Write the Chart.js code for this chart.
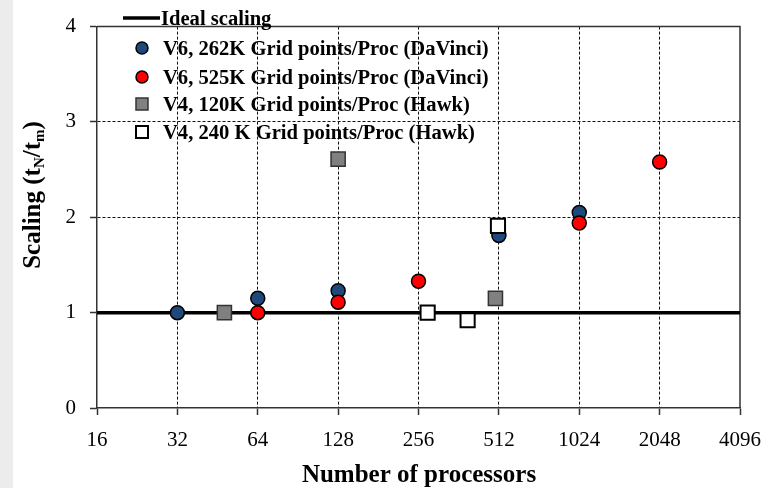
<!DOCTYPE html>
<html>
<head>
<meta charset="utf-8">
<script src="https://cdn.jsdelivr.net/npm/chart.js@4.4.1/dist/chart.umd.min.js"></script>
<style>
  html, body { margin: 0; padding: 0; background: #fff; }
  #wrap { position: relative; width: 774px; height: 488px; }
  #strip { position: absolute; left: 0; top: 0; width: 13px; height: 488px; background: #ececec; }
  canvas { position: absolute; left: 0; top: 0; }
</style>
</head>
<body>
<div id="wrap">
  <div id="strip"></div>
  <canvas id="chart" width="774" height="488"></canvas>
</div>
<script>
// x ticks (number of processors), log2 spaced
const xTicks = [16, 32, 64, 128, 256, 512, 1024, 2048, 4096];
const yTicks = [0, 1, 2, 3, 4];

// Ideal scaling
const idealX = [16, 4096];
const idealY = [1, 1];

// V6, 262K Grid points/Proc (DaVinci)
const davinci262X = [32, 64, 128, 512, 1024];
const davinci262Y = [1.0, 1.15, 1.23, 1.81, 2.05];

// V6, 525K Grid points/Proc (DaVinci)
const davinci525X = [64, 128, 256, 1024, 2048];
const davinci525Y = [1.0, 1.11, 1.33, 1.94, 2.58];

// V4, 120K Grid points/Proc (Hawk)
const hawk120X = [48, 128, 497];
const hawk120Y = [1.0, 2.61, 1.15];

// V4, 240 K Grid points/Proc (Hawk)
const hawk240X = [277, 391, 508];
const hawk240Y = [1.0, 0.92, 1.91];

const labels = [
  'Ideal scaling',
  'V6, 262K Grid points/Proc (DaVinci)',
  'V6, 525K Grid points/Proc (DaVinci)',
  'V4, 120K Grid points/Proc (Hawk)',
  'V4, 240 K Grid points/Proc (Hawk)'
];

const serif = "'Liberation Serif', 'Times New Roman', serif";

function pts(xs, ys) {
  return xs.map((x, i) => ({ x: x, y: ys[i] }));
}

// frame on top and right, legend and axis titles
const extras = {
  id: 'extras',
  beforeDatasetsDraw(chart) {
    const { ctx, chartArea: a } = chart;
    ctx.save();
    ctx.strokeStyle = '#333';
    ctx.lineWidth = 1.5;
    ctx.beginPath();
    ctx.moveTo(a.left, a.top);
    ctx.lineTo(a.right, a.top);
    ctx.lineTo(a.right, a.bottom);
    ctx.stroke();
    ctx.restore();
  },
  afterDraw(chart) {
    const ctx = chart.ctx;
    const ds = chart.data.datasets;
    ctx.save();

    // legend
    ctx.font = 'bold 20.6px ' + serif;
    ctx.fillStyle = '#000';
    ctx.textBaseline = 'middle';
    ctx.textAlign = 'left';
    ctx.strokeStyle = '#000';
    ctx.lineWidth = 3.5;
    ctx.beginPath();
    ctx.moveTo(123, 18);
    ctx.lineTo(160, 18);
    ctx.stroke();
    ctx.fillText(ds[0].label, 161, 20);

    const rows = [48, 77, 104, 132];
    for (let i = 1; i < ds.length; i++) {
      const y = rows[i - 1];
      const d = ds[i];
      ctx.fillStyle = d.backgroundColor;
      ctx.strokeStyle = d.borderColor;
      ctx.lineWidth = d.borderWidth;
      ctx.beginPath();
      if (d.pointStyle === 'rect') {
        ctx.rect(136, y - 6, 12, 12);
      } else {
        ctx.arc(142, y, 6, 0, Math.PI * 2);
      }
      ctx.fill();
      ctx.stroke();
      ctx.fillStyle = '#000';
      ctx.fillText(d.label, 163, y + 2);
    }

    // x title
    ctx.font = 'bold 25px ' + serif;
    ctx.textAlign = 'center';
    ctx.textBaseline = 'alphabetic';
    ctx.fillText('Number of processors', 419, 482);

    // y title with subscripts
    const parts = [
      { t: 'Scaling (t', sub: false },
      { t: 'N', sub: true },
      { t: '/t', sub: false },
      { t: 'm', sub: true },
      { t: ')', sub: false }
    ];
    const big = 'bold 25px ' + serif;
    const small = 'bold 15px ' + serif;
    let total = 0;
    parts.forEach(p => {
      ctx.font = p.sub ? small : big;
      p.w = ctx.measureText(p.t).width;
      total += p.w;
    });
    ctx.translate(40, 195);
    ctx.rotate(-Math.PI / 2);
    ctx.textAlign = 'left';
    let x = -total / 2;
    parts.forEach(p => {
      ctx.font = p.sub ? small : big;
      ctx.fillText(p.t, x, p.sub ? 4 : 0);
      x += p.w;
    });
    ctx.restore();
  }
};

const ctx = document.getElementById('chart').getContext('2d');
new Chart(ctx, {
  type: 'scatter',
  data: {
    datasets: [
      {
        label: labels[0],
        data: pts(idealX, idealY),
        showLine: true,
        borderColor: '#000',
        backgroundColor: '#000',
        borderWidth: 3.5,
        pointRadius: 0,
        order: 5
      },
      {
        label: labels[1],
        data: pts(davinci262X, davinci262Y),
        backgroundColor: '#1f497d',
        borderColor: '#000',
        borderWidth: 1.5,
        pointRadius: 7,
        order: 4
      },
      {
        label: labels[2],
        data: pts(davinci525X, davinci525Y),
        backgroundColor: '#ff0000',
        borderColor: '#000',
        borderWidth: 1.5,
        pointRadius: 7,
        order: 3
      },
      {
        label: labels[3],
        data: pts(hawk120X, hawk120Y),
        pointStyle: 'rect',
        backgroundColor: '#808080',
        borderColor: '#333',
        borderWidth: 1.5,
        pointRadius: 10,
        order: 2
      },
      {
        label: labels[4],
        data: pts(hawk240X, hawk240Y),
        pointStyle: 'rect',
        backgroundColor: '#fff',
        borderColor: '#000',
        borderWidth: 2,
        pointRadius: 10,
        order: 1
      }
    ]
  },
  options: {
    responsive: false,
    animation: false,
    layout: { padding: { left: 0, right: 34, top: 25, bottom: 0 } },
    plugins: {
      legend: { display: false },
      tooltip: { enabled: false }
    },
    scales: {
      x: {
        type: 'logarithmic',
        min: 16,
        max: 4096,
        afterBuildTicks: scale => {
          scale.ticks = xTicks.map(v => ({ value: v }));
        },
        afterFit: scale => { scale.height = 80; },
        ticks: {
          autoSkip: false,
          maxRotation: 0,
          padding: 13,
          color: '#000',
          font: { family: serif, size: 21 },
          callback: v => String(v)
        },
        grid: {
          color: c => (c.tick && (c.tick.value === 16 || c.tick.value === 4096)) ? 'rgba(0,0,0,0)' : '#111',
          lineWidth: 1,
          tickColor: '#333',
          tickLength: 7,
          tickWidth: 1.5
        },
        border: { color: '#333', width: 1.5, dash: [3, 2] }
      },
      y: {
        min: 0,
        max: 4,
        afterBuildTicks: scale => {
          scale.ticks = yTicks.map(v => ({ value: v }));
        },
        afterFit: scale => { scale.width = 97; },
        ticks: {
          padding: 14,
          color: '#000',
          font: { family: serif, size: 21 }
        },
        grid: {
          color: c => (c.tick && (c.tick.value === 2 || c.tick.value === 3)) ? '#111' : 'rgba(0,0,0,0)',
          lineWidth: 1,
          tickColor: '#333',
          tickLength: 7,
          tickWidth: 1.5
        },
        border: { color: '#333', width: 1.5, dash: [3, 2] }
      }
    }
  },
  plugins: [extras]
});
</script>
</body>
</html>
